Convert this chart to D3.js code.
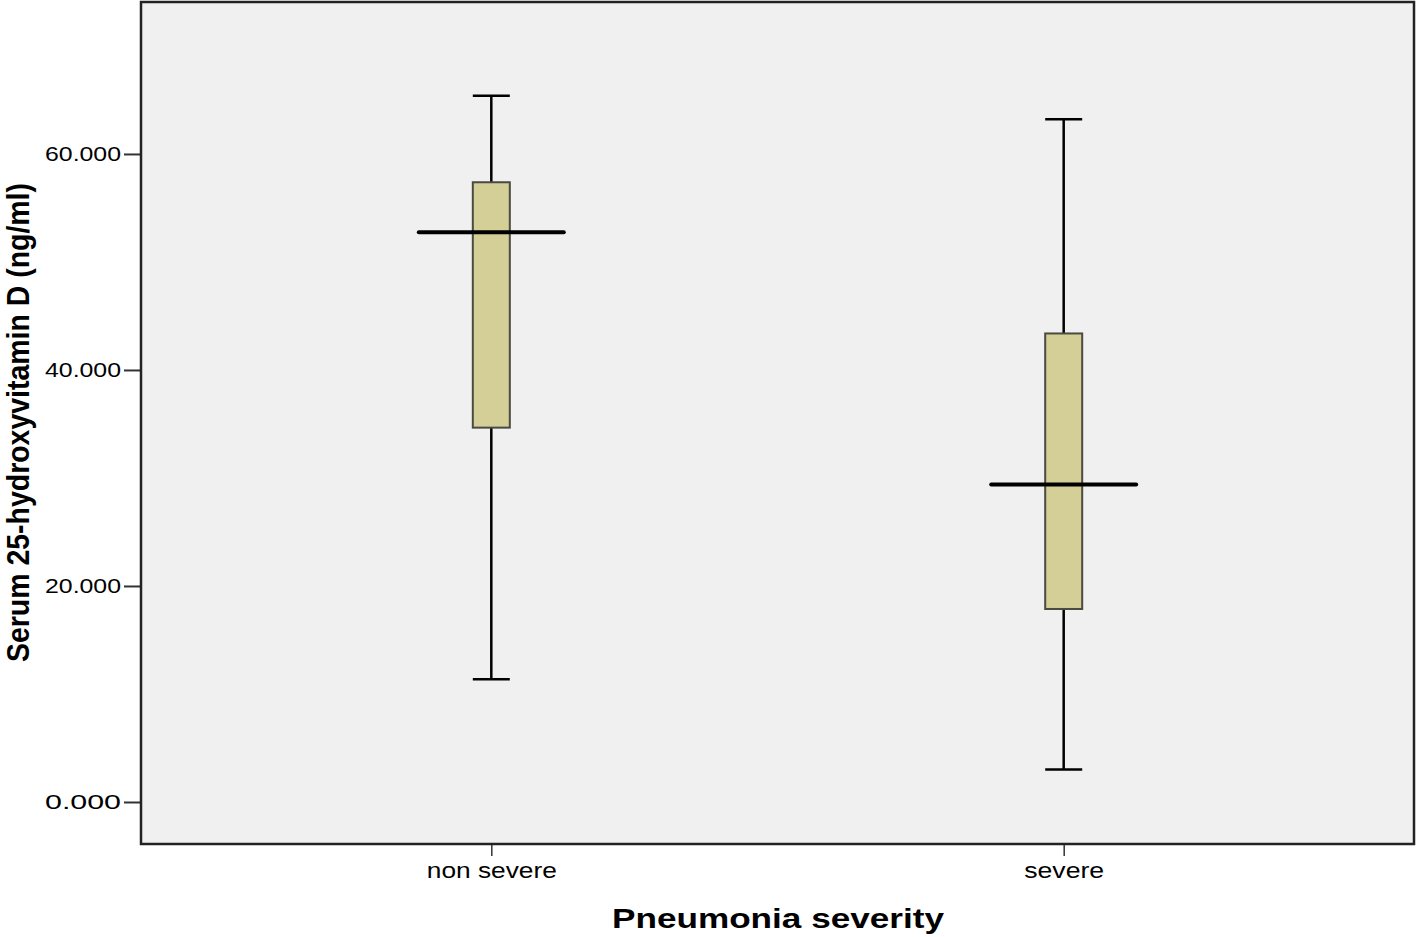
<!DOCTYPE html>
<html>
<head>
<meta charset="utf-8">
<script src="https://cdn.jsdelivr.net/npm/d3@7"></script>
<style>
  html, body { margin: 0; padding: 0; background: #ffffff; }
  svg { display: block; }
  text { font-family: "Liberation Sans", Arial, sans-serif; fill: #000; }
</style>
</head>
<body>
<svg id="chart" width="1418" height="937"></svg>
<script>
// ---- data ----
const categories   = ["non severe", "severe"];
const whiskerLow   = [11.36, 3.0];
const quartile1    = [34.66, 17.87];
const medians      = [52.75, 29.40];
const quartile3    = [57.38, 43.38];
const whiskerHigh  = [65.40, 63.22];
const yTickValues  = [0, 20, 40, 60];
const yTitle = "Serum 25-hydroxyvitamin D (ng/ml)";
const xTitle = "Pneumonia severity";

// ---- layout ----
const plot = { left: 141, right: 1414, top: 2, bottom: 844 };
const boxWidth = 37;
const medianWidth = 145;

const svg = d3.select("#chart");

const y = d3.scaleLinear().domain([-3.89, 74.07]).range([plot.bottom, plot.top]);
const x = d3.scalePoint().domain(categories).range([plot.left, plot.right]).padding(0.612);

// plot background
svg.append("rect")
  .attr("x", plot.left).attr("y", plot.top)
  .attr("width", plot.right - plot.left).attr("height", plot.bottom - plot.top)
  .attr("fill", "#f0f0f0");

// y axis
const yAxis = svg.append("g")
  .attr("transform", `translate(${plot.left},0)`)
  .call(d3.axisLeft(y).tickValues(yTickValues).tickFormat(d3.format(".3f")).tickSize(17).tickPadding(3));
yAxis.select(".domain").remove();
yAxis.selectAll(".tick line").attr("stroke", "#333").attr("stroke-width", 2);
yAxis.selectAll(".tick text")
  .attr("font-size", 21)
  .attr("font-family", "Liberation Sans, Arial, sans-serif")
  .attr("fill", "#111")
  .attr("textLength", 76).attr("lengthAdjust", "spacingAndGlyphs");

// x axis
const xAxis = svg.append("g")
  .attr("transform", `translate(0,${plot.bottom})`)
  .call(d3.axisBottom(x).tickSize(12).tickPadding(6));
xAxis.select(".domain").remove();
xAxis.selectAll(".tick line").attr("stroke", "#333").attr("stroke-width", 1.5);
xAxis.selectAll(".tick text")
  .attr("font-size", 22)
  .attr("font-family", "Liberation Sans, Arial, sans-serif")
  .attr("fill", "#111")
  .attr("textLength", (d) => d === "severe" ? 80 : 130)
  .attr("lengthAdjust", "spacingAndGlyphs");

// boxes
const data = categories.map((c, i) => ({
  c, lo: whiskerLow[i], q1: quartile1[i], med: medians[i], q3: quartile3[i], hi: whiskerHigh[i]
}));

const g = svg.append("g");
const groups = g.selectAll("g.box").data(data).join("g").attr("class", "box");

// whisker lines
groups.append("line")
  .attr("x1", d => x(d.c)).attr("x2", d => x(d.c))
  .attr("y1", d => y(d.hi)).attr("y2", d => y(d.q3))
  .attr("stroke", "#000").attr("stroke-width", 2.5);
groups.append("line")
  .attr("x1", d => x(d.c)).attr("x2", d => x(d.c))
  .attr("y1", d => y(d.q1)).attr("y2", d => y(d.lo))
  .attr("stroke", "#000").attr("stroke-width", 2.5);
// caps
groups.append("line")
  .attr("x1", d => x(d.c) - boxWidth / 2).attr("x2", d => x(d.c) + boxWidth / 2)
  .attr("y1", d => y(d.hi)).attr("y2", d => y(d.hi))
  .attr("stroke", "#000").attr("stroke-width", 2.5);
groups.append("line")
  .attr("x1", d => x(d.c) - boxWidth / 2).attr("x2", d => x(d.c) + boxWidth / 2)
  .attr("y1", d => y(d.lo)).attr("y2", d => y(d.lo))
  .attr("stroke", "#000").attr("stroke-width", 2.5);
// box
groups.append("rect")
  .attr("x", d => x(d.c) - boxWidth / 2).attr("width", boxWidth)
  .attr("y", d => y(d.q3)).attr("height", d => y(d.q1) - y(d.q3))
  .attr("fill", "#d3cf97").attr("stroke", "#4a4a40").attr("stroke-width", 2);
// median
groups.append("line")
  .attr("x1", d => x(d.c) - medianWidth / 2).attr("x2", d => x(d.c) + medianWidth / 2)
  .attr("y1", d => y(d.med)).attr("y2", d => y(d.med))
  .attr("stroke", "#000").attr("stroke-width", 4).attr("stroke-linecap", "round");

// frame
svg.append("rect")
  .attr("x", plot.left).attr("y", plot.top)
  .attr("width", plot.right - plot.left).attr("height", plot.bottom - plot.top)
  .attr("fill", "none").attr("stroke", "#222").attr("stroke-width", 2.5);

// axis titles
svg.append("text")
  .attr("x", 778).attr("y", 928)
  .attr("text-anchor", "middle")
  .attr("font-size", 28).attr("font-weight", "bold")
  .attr("textLength", 332).attr("lengthAdjust", "spacingAndGlyphs")
  .text(xTitle);

svg.append("text")
  .attr("transform", "translate(29,422.5) scale(1.18,1) rotate(-90)")
  .attr("text-anchor", "middle")
  .attr("font-size", 26).attr("font-weight", "bold")
  .attr("textLength", 479).attr("lengthAdjust", "spacingAndGlyphs")
  .text(yTitle);
</script>
</body>
</html>
